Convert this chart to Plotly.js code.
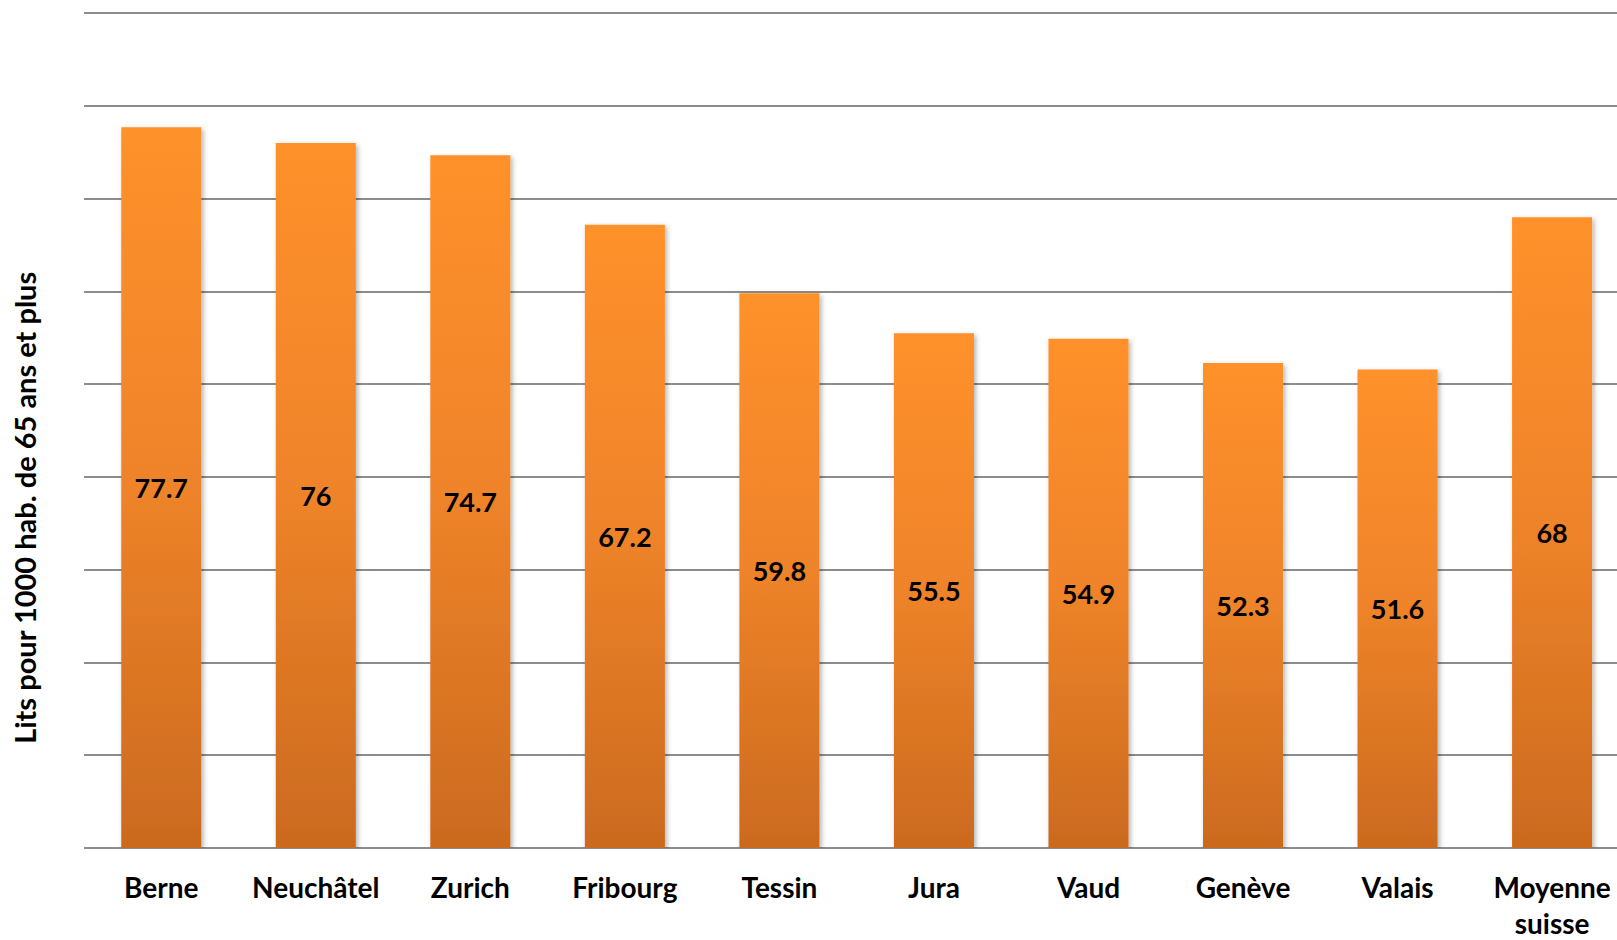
<!DOCTYPE html>
<html>
<head>
<meta charset="utf-8">
<script src="https://cdn.plot.ly/plotly-3.0.1.min.js"></script>
<style>html,body{margin:0;padding:0;background:#fff;}#chart{width:1617px;height:940px;}</style>
</head>
<body>
<div id="chart"></div>
<script>
const categories = ["Berne", "Neuchâtel", "Zurich", "Fribourg", "Tessin", "Jura", "Vaud", "Genève", "Valais", "Moyenne<br>suisse"];
const values = [77.7, 76, 74.7, 67.2, 59.8, 55.5, 54.9, 52.3, 51.6, 68];
const yTitle = "Lits pour 1000 hab. de 65 ans et plus";

const FONT = "Lato, 'Open Sans', sans-serif";

const trace = {
  type: "bar",
  x: categories,
  y: values,
  text: values.map(v => String(v)),
  textposition: "inside",
  insidetextanchor: "middle",
  textangle: 0,
  textfont: {family: FONT, size: 27, color: "#000", weight: "bold"},
  marker: {color: "#EE8329", line: {width: 0}},
  width: 0.518,
  hoverinfo: "none"
};

const layout = {
  width: 1617, height: 940,
  margin: {l: 84, r: 0, t: 4, b: 92},
  paper_bgcolor: "#fff", plot_bgcolor: "#fff",
  showlegend: false,
  font: {family: FONT, color: "#000"},
  xaxis: {
    type: "category",
    range: [-0.5, 9.42],
    showgrid: false, showline: false, zeroline: false,
    ticks: "",
    ticklabelstandoff: 21,
    tickfont: {family: FONT, size: 28, color: "#000", weight: "bold"}
  },
  yaxis: {
    range: [0, 91],
    dtick: 10, tick0: 0,
    showgrid: true, gridcolor: "#8c8c8c", gridwidth: 2,
    zeroline: true, zerolinecolor: "#8c8c8c", zerolinewidth: 2,
    showticklabels: false, ticks: "", showline: false,
    automargin: false
  },
  annotations: [{
    text: yTitle,
    xref: "paper", yref: "paper",
    x: -0.0385, y: 0.403,
    xanchor: "center", yanchor: "middle",
    textangle: -90, showarrow: false,
    font: {family: FONT, size: 29, color: "#000", weight: "bold"}
  }]
};

Plotly.newPlot("chart", [trace], layout, {staticPlot: true, displayModeBar: false}).then(gd => {
  const svg = gd.querySelector("svg.main-svg");
  const NS = "http://www.w3.org/2000/svg";
  const defs = document.createElementNS(NS, "defs");
  defs.innerHTML =
    '<linearGradient id="barGrad" x1="0" y1="0" x2="0" y2="1">' +
    '<stop offset="0" stop-color="#FF9129"/>' +
    '<stop offset="0.5" stop-color="#EE8329"/>' +
    '<stop offset="1" stop-color="#CB6A1F"/>' +
    '</linearGradient>' +
    '<filter id="barShadow" x="-20%" y="-5%" width="140%" height="110%">' +
    '<feDropShadow dx="2" dy="2" stdDeviation="2.5" flood-color="#000" flood-opacity="0.3"/>' +
    '</filter>';
  svg.insertBefore(defs, svg.firstChild);
  gd.querySelectorAll(".barlayer .point path").forEach(p => {
    p.style.fill = "url(#barGrad)";
    p.setAttribute("filter", "url(#barShadow)");
  });
});
</script>
</body>
</html>
